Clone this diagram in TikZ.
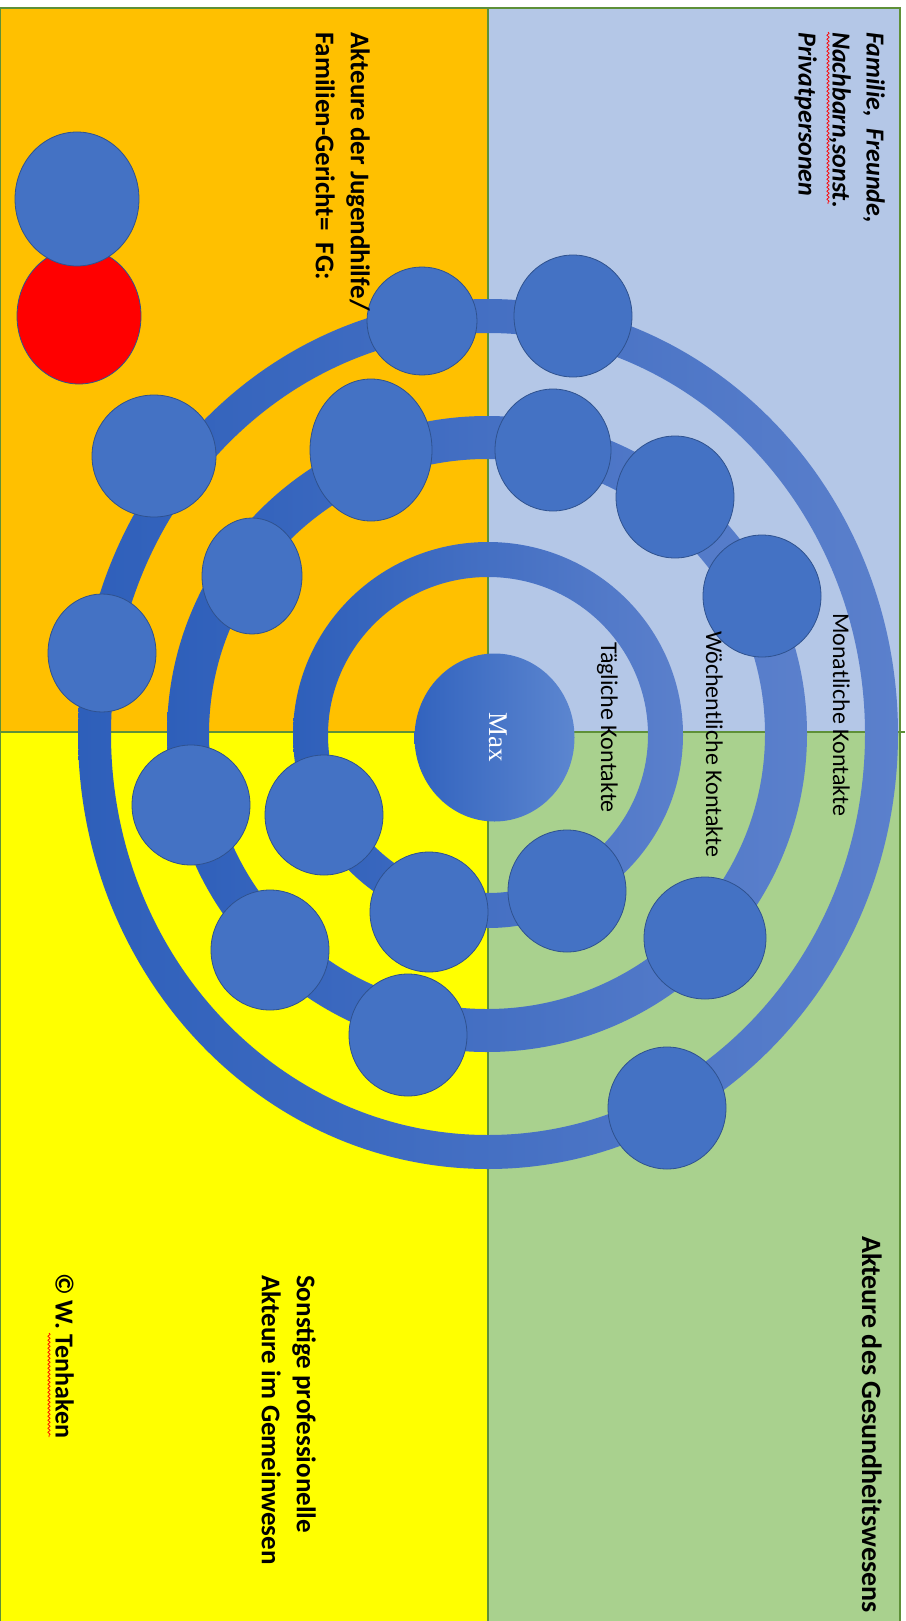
\documentclass[tikz,border=0pt]{standalone}
\usepackage{fontspec}
\setmainfont{Carlito}
\newfontfamily\maxfont{Liberation Serif}
\usetikzlibrary{shapes.geometric,decorations.pathmorphing}
\definecolor{qorange}{HTML}{FFC000}
\definecolor{qblue}{HTML}{B4C7E7}
\definecolor{qyellow}{HTML}{FFFF00}
\definecolor{qgreen}{HTML}{A9D18E}
\definecolor{qline}{HTML}{5E9038}
\definecolor{cfill}{HTML}{4472C4}
\definecolor{cedge}{HTML}{2F528F}
\definecolor{ringL}{HTML}{2E5FBA}
\definecolor{ringR}{HTML}{5B80CC}
\definecolor{maxL}{HTML}{3263BE}
\definecolor{maxR}{HTML}{5C86D0}
\begin{document}
\begin{tikzpicture}[x=1pt,y=-1pt,
  quad/.style={draw=qline,line width=1.5pt},
  person/.style={ellipse,draw=cedge,line width=0.8pt,fill=cfill,inner sep=0pt},
  ringshade/.style={left color=ringL,right color=ringR,even odd rule},
  ringlabel/.style={rotate=-90,anchor=north west,inner sep=0pt,font=\fontsize{24}{28}\selectfont},
  sector/.style={rotate=-90,anchor=north west,inner sep=0pt,align=left,font=\bfseries\fontsize{27}{35}\selectfont},
  squiggle/.style={draw=red,line width=0.7pt,decorate,decoration={snake,amplitude=1.1pt,segment length=4pt}}
]
\useasboundingbox (0,0) rectangle (905,1621);
\fill[white] (0,0) rectangle (905,1621);
% quadrants
\filldraw[quad,fill=qorange] (0,8) rectangle (488,732);
\filldraw[quad,fill=qblue] (488,8) rectangle (900,732);
\filldraw[quad,fill=qyellow] (0,732) rectangle (488,1630);
\filldraw[quad,fill=qgreen] (488,732) rectangle (900,1630);
\draw[quad] (0,732) -- (905,732);
% rings
\shade[ringshade] (488,734) ellipse [x radius=410pt, y radius=435pt]
                  (488,734) ellipse [x radius=377pt, y radius=401pt];
\shade[ringshade] (487,734) ellipse [x radius=320pt, y radius=318pt]
                  (487,734) ellipse [x radius=278pt, y radius=275pt];
\shade[ringshade] (488,735) ellipse [x radius=195pt, y radius=193pt]
                  (488,735) ellipse [x radius=160pt, y radius=158pt];
% persons
\node[person,fill=red,minimum width=124pt,minimum height=136pt] (red) at (79,316) {};
\node[person,minimum width=124pt,minimum height=134pt] (bluetop) at (77,199) {};
\node[person,minimum width=110pt,minimum height=108pt] (c3) at (422,321) {};
\node[person,minimum width=118pt,minimum height=122pt] (c4) at (573,316) {};
\node[person,minimum width=122pt,minimum height=142pt] (c5) at (371,450) {};
\node[person,minimum width=116pt,minimum height=122pt] (c6) at (553,450) {};
\node[person,minimum width=118pt,minimum height=122pt] (c7) at (675,497) {};
\node[person,minimum width=118pt,minimum height=122pt] (c8) at (762,596) {};
\node[person,minimum width=124pt,minimum height=122pt] (c9) at (154,456) {};
\node[person,minimum width=100pt,minimum height=116pt] (c10) at (252,576) {};
\node[person,minimum width=108pt,minimum height=118pt] (c11) at (102,653) {};
\node[person,minimum width=118pt,minimum height=120pt] (c12) at (191,805) {};
\node[person,minimum width=118pt,minimum height=120pt] (c13) at (324,815) {};
\node[person,minimum width=118pt,minimum height=120pt] (c14) at (429,912) {};
\node[person,minimum width=118pt,minimum height=122pt] (c15) at (567,891) {};
\node[person,minimum width=118pt,minimum height=120pt] (c16) at (270,950) {};
\node[person,minimum width=118pt,minimum height=122pt] (c17) at (408,1035) {};
\node[person,minimum width=122pt,minimum height=122pt] (c18) at (705,938) {};
\node[person,minimum width=118pt,minimum height=122pt] (c19) at (667,1108) {};
% Max
\node[ellipse,inner sep=0pt,left color=maxL,right color=maxR,minimum width=160pt,minimum height=168pt] (max) at (494.5,737.5) {};
\node[rotate=-90,inner sep=0pt,text=white,font=\maxfont\fontsize{27}{27}\selectfont] (maxtext) at (498,737) {Max};
% ring labels
\node[ringlabel] (monat) at (850,613) {Monatliche Kontakte};
\node[ringlabel] (woche) at (723,631) {Wöchentliche Kontakte};
\node[ringlabel] (tag) at (618,642) {Tägliche Kontakte};
% sector labels
\node[sector,font=\bfseries\itshape\fontsize{26}{34}\selectfont] (fam) at (885,32) {Familie,\ \ Freunde,\\Nachbarn,sonst.\\Privatpersonen};
\node[sector] (jugend) at (370,32) {Akteure der Jugendhilfe/\\Familien-Gericht=\ \ FG:};
\node[sector,font=\bfseries\fontsize{28}{35}\selectfont] (gesund) at (882,1236) {Akteure des Gesundheitswesens};
\node[sector] (sonst) at (316,1275) {Sonstige professionelle\\Akteure im Gemeinwesen};
\node[sector,font=\bfseries\fontsize{26}{35}\selectfont] (copy) at (74,1273) {© W. Tenhaken};
% spell-check marks
\draw[squiggle] (828,32) -- (828,204);
\draw[squiggle] (49,1333) -- (49,1437);
\end{tikzpicture}
\end{document}
